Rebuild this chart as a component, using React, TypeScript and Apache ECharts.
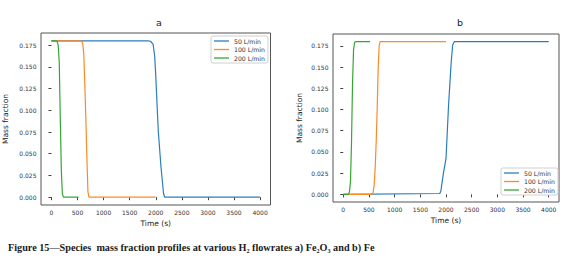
import React, { useEffect, useRef } from "react";
import * as echarts from "echarts";

// Panel a: Fe2O3 mass fraction
const A50_T = [0, 1850, 1900, 1950, 1980, 2000, 2030, 2050, 2100, 2150, 2170, 4000];
const A50_V = [0.18, 0.18, 0.1795, 0.176, 0.162, 0.14, 0.1, 0.075, 0.035, 0.004, 0, 0];
const A100_T = [0, 550, 580, 600, 620, 640, 660, 680, 700, 720, 2000];
const A100_V = [0.18, 0.18, 0.1795, 0.177, 0.165, 0.13, 0.09, 0.045, 0.006, 0, 0];
const A200_T = [0, 90, 110, 130, 150, 170, 190, 210, 230, 520];
const A200_V = [0.18, 0.18, 0.179, 0.175, 0.155, 0.09, 0.03, 0.004, 0, 0];

// Panel b: Fe mass fraction
const B50_T = [0, 1880, 1900, 1950, 2000, 2030, 2050, 2100, 2130, 2160, 4000];
const B50_V = [0, 0.001, 0.004, 0.025, 0.042, 0.08, 0.105, 0.155, 0.176, 0.18, 0.18];
const B100_T = [0, 550, 580, 600, 620, 640, 660, 680, 700, 720, 2000];
const B100_V = [0, 0, 0.002, 0.01, 0.03, 0.06, 0.1, 0.15, 0.176, 0.18, 0.18];
const B200_T = [0, 100, 120, 140, 160, 180, 200, 220, 240, 520];
const B200_V = [0, 0, 0.003, 0.015, 0.06, 0.13, 0.17, 0.179, 0.18, 0.18];

const NAMES = ["50 L/min", "100 L/min", "200 L/min"];
const COLORS = ["#2a7dbd", "#fb8a26", "#36a536"];
const X_TICKS = [0, 500, 1000, 1500, 2000, 2500, 3000, 3500, 4000];
const Y_TICKS = [0, 0.025, 0.05, 0.075, 0.1, 0.125, 0.15, 0.175];
const PANEL_TITLES = ["a", "b"];
const CAPTION = "Figure 15\u2014Species  mass fraction profiles at various H\u2082 flowrates a) Fe\u2082O\u2083 and b) Fe";

const zip = (t: number[], v: number[]) => t.map((x, i) => [x, v[i]]);

export default function App() {
  const ref = useRef<HTMLDivElement>(null);
  useEffect(() => {
    if (!ref.current) return;
    const chart = echarts.init(ref.current, null, { renderer: "svg" });
    const font = "DejaVu Sans";
    const xAxis = (gridIndex: number) => ({
      type: "value",
      gridIndex,
      min: -200,
      max: 4200,
      name: "Time (s)",
      nameLocation: "middle",
      nameGap: 12,
      nameTextStyle: { fontFamily: font, fontSize: 7.5, color: "#222" },
      axisLine: { show: false },
      axisTick: { show: true, length: 3, customValues: X_TICKS, lineStyle: { color: "#444" } },
      axisLabel: {
        customValues: X_TICKS,
        margin: 4,
        fontFamily: font,
        fontSize: 6,
        color: "#333",
        formatter: (v: number) => String(v),
      },
      splitLine: { show: false },
    });
    const yAxis = (gridIndex: number, gap: number) => ({
      type: "value",
      gridIndex,
      min: -0.009,
      max: 0.189,
      name: "Mass fraction",
      nameLocation: "middle",
      nameGap: gap,
      nameTextStyle: { fontFamily: font, fontSize: 7.5, color: "#222" },
      axisLine: { show: false },
      axisTick: { show: true, length: 3, customValues: Y_TICKS, lineStyle: { color: "#444" } },
      axisLabel: {
        customValues: Y_TICKS,
        margin: 4.5,
        fontFamily: font,
        fontSize: 6,
        color: "#333",
        formatter: (v: number) => v.toFixed(3),
      },
      splitLine: { show: false },
    });
    const mk = (name: string, t: number[], v: number[], color: string, idx: number) => ({
      type: "line",
      name,
      xAxisIndex: idx,
      yAxisIndex: idx,
      data: zip(t, v),
      showSymbol: false,
      symbol: "none",
      lineStyle: { width: 1.2, color },
      itemStyle: { color },
    });
    const legend = (left: number, top: number) => ({
      data: NAMES,
      left,
      top,
      orient: "vertical",
      align: "left",
      icon: "rect",
      itemWidth: 15,
      itemHeight: 1.3,
      itemGap: 2.5,
      padding: [2, 3, 2, 3],
      backgroundColor: "#fff",
      borderColor: "#d0d0d0",
      borderWidth: 1,
      borderRadius: 2,
      selectedMode: false,
      textStyle: { fontFamily: font, fontSize: 6.2, color: "#333" },
    });
    chart.setOption({
      animation: false,
      backgroundColor: "#fff",
      title: [
        { text: PANEL_TITLES[0], left: 154, top: 12, textAlign: "center", textStyle: { fontFamily: font, fontSize: 9.5, fontWeight: "normal", color: "#222" } },
        { text: PANEL_TITLES[1], left: 455, top: 12, textAlign: "center", textStyle: { fontFamily: font, fontSize: 9.5, fontWeight: "normal", color: "#222" } },
      ],
      grid: [
        { left: 38.5, top: 33, width: 232, height: 172, show: true, borderColor: "#555", borderWidth: 1, backgroundColor: "transparent" },
        { left: 333, top: 34, width: 226, height: 168, show: true, borderColor: "#555", borderWidth: 1, backgroundColor: "transparent" },
      ],
      xAxis: [xAxis(0), xAxis(1)],
      yAxis: [yAxis(0, 32), yAxis(1, 30)],
      legend: [legend(211, 36), legend(501, 168)],
      series: [
        mk(NAMES[0], A50_T, A50_V, COLORS[0], 0),
        mk(NAMES[1], A100_T, A100_V, COLORS[1], 0),
        mk(NAMES[2], A200_T, A200_V, COLORS[2], 0),
        mk(NAMES[0], B50_T, B50_V, COLORS[0], 1),
        mk(NAMES[1], B100_T, B100_V, COLORS[1], 1),
        mk(NAMES[2], B200_T, B200_V, COLORS[2], 1),
      ],
      graphic: [
        {
          type: "text",
          left: 8,
          top: 242,
          style: {
            text: CAPTION,
            font: "bold 10.2px 'Liberation Serif'",
            fill: "#1a1a1a",
          },
        },
      ],
    });
    return () => chart.dispose();
  }, []);
  return (
    <div
      ref={ref}
      style={{ position: "absolute", left: 0, top: 0, width: 568, height: 266, background: "#fff" }}
    />
  );
}
